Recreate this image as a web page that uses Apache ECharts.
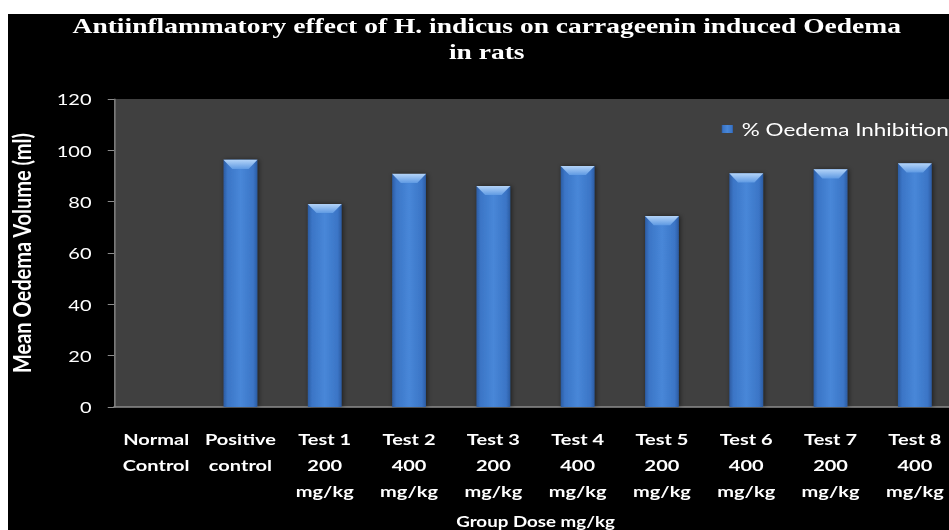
<!DOCTYPE html>
<html>
<head>
<meta charset="utf-8">
<script src="https://cdn.jsdelivr.net/npm/echarts@6/dist/echarts.min.js"></script>
<style>
  html, body { margin: 0; padding: 0; background: #ffffff; overflow: hidden; width: 949px; height: 530px; }
  #chart { position: absolute; left: 8px; top: 14px; width: 768px; height: 516px; transform: scaleX(1.25); transform-origin: 0 0; }
</style>
</head>
<body>
<div id="chart"></div>
<script>
const titleLine1 = 'Antiinflammatory effect of H. indicus on carrageenin induced Oedema';
const titleLine2 = 'in rats';
const categories = [
  'Normal\nControl', 'Positive\ncontrol',
  'Test 1\n200\nmg/kg', 'Test 2\n400\nmg/kg', 'Test 3\n200\nmg/kg', 'Test 4\n400\nmg/kg',
  'Test 5\n200\nmg/kg', 'Test 6\n400\nmg/kg', 'Test 7\n200\nmg/kg', 'Test 8\n400\nmg/kg'
];
const seriesName = '% Oedema Inhibition';
const values = [0, 96.3, 79.1, 90.8, 86.1, 93.9, 74.4, 91.0, 92.6, 94.9];
const yMin = 0, yMax = 120, yStep = 20;
const xName = 'Group Dose mg/kg';
const yName = 'Mean Oedema Volume (ml)';

const sans = 'Lato, "Open Sans", sans-serif';
const serifTitle = { color: '#ffffff', fontFamily: '"Liberation Serif", "Times New Roman", serif', fontWeight: 'bold', fontSize: 22, lineHeight: 22 };
const chart = echarts.init(document.getElementById('chart'), null, { renderer: 'svg' });
chart.setOption({
  backgroundColor: '#000000',
  animation: false,
  title: {
    text: titleLine1,
    subtext: titleLine2,
    left: 383,
    top: 0,
    padding: 0,
    itemGap: 5,
    textAlign: 'center',
    textStyle: serifTitle,
    subtextStyle: serifTitle
  },
  legend: {
    data: [seriesName],
    left: 571,
    top: 104,
    padding: 0,
    itemWidth: 9,
    itemHeight: 8,
    icon: 'rect',
    textStyle: { color: '#ffffff', fontFamily: sans, fontSize: 18, lineHeight: 22, padding: [0, 0, 0, 2] }
  },
  grid: {
    left: 84.8, right: 8.8, top: 85, bottom: 123,
    show: true, backgroundColor: '#404040', borderWidth: 0,
    outerBoundsMode: 'none', containLabel: false
  },
  xAxis: {
    type: 'category',
    data: categories,
    name: xName,
    nameLocation: 'middle',
    nameGap: 104,
    nameTextStyle: { color: '#ffffff', fontFamily: sans, fontWeight: 'bold', fontSize: 15, lineHeight: 20 },
    axisLine: { show: true, lineStyle: { color: '#8c8c8c', width: 1.5 } },
    axisTick: { show: false },
    axisLabel: { interval: 0, color: '#ffffff', fontFamily: sans, fontWeight: 'bold', fontSize: 16, lineHeight: 26, margin: 19 },
    splitLine: { show: false }
  },
  yAxis: {
    type: 'value',
    min: yMin, max: yMax, interval: yStep,
    name: yName,
    nameLocation: 'middle',
    nameRotate: 90,
    nameGap: 64,
    nameTextStyle: { color: '#ffffff', fontFamily: sans, fontWeight: 'bold', fontSize: 20, lineHeight: 20 },
    axisLine: { show: true, lineStyle: { color: '#8c8c8c', width: 1 } },
    axisTick: { show: true, length: 5, lineStyle: { color: '#8c8c8c' } },
    axisLabel: { color: '#ffffff', fontFamily: sans, fontSize: 16, margin: 18 },
    splitLine: { show: false }
  },
  series: [
    {
      name: seriesName,
      type: 'bar',
      barWidth: 27,
      data: values,
      itemStyle: {
        color: new echarts.graphic.LinearGradient(0, 0, 1, 0, [
          { offset: 0, color: '#2c5ca3' },
          { offset: 0.12, color: '#3b75c6' },
          { offset: 0.5, color: '#4887d8' },
          { offset: 0.88, color: '#3b75c6' },
          { offset: 1, color: '#2c5ca3' }
        ]),
        shadowBlur: 4,
        shadowColor: 'rgba(0,0,0,0.55)',
        shadowOffsetX: 1
      }
    },
    {
      name: 'cap',
      type: 'pictorialBar',
      symbol: 'path://M0,0 L27,0 L20,9 L7,9 Z',
      symbolSize: [27, 9],
      symbolPosition: 'end',
      barWidth: 27,
      z: 3,
      silent: true,
      data: values.map(v => (v > 0 ? v : '-')),
      itemStyle: {
        color: new echarts.graphic.LinearGradient(0, 0, 0, 1, [
          { offset: 0, color: '#b4d4f8' },
          { offset: 1, color: '#5f9ae3' }
        ])
      }
    }
  ]
});
</script>
</body>
</html>
